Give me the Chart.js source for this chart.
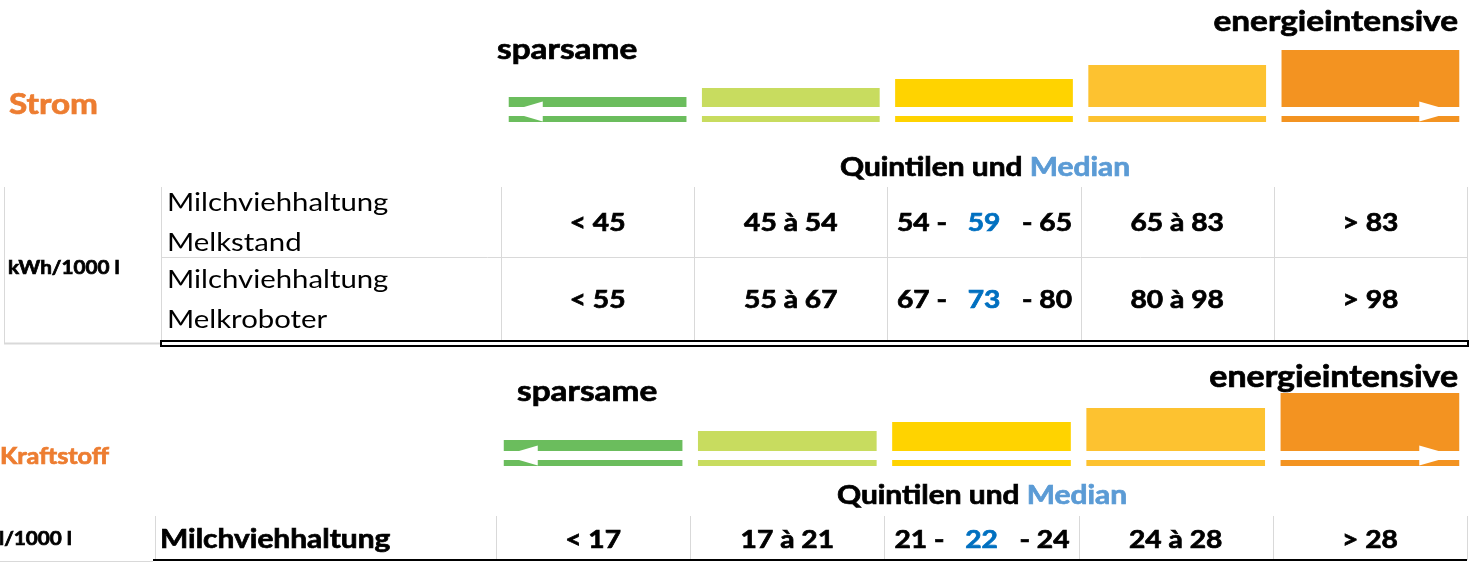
<!DOCTYPE html>
<html>
<head>
<meta charset="utf-8">
<script src="https://cdn.jsdelivr.net/npm/chart.js@4.4.1/dist/chart.umd.min.js"></script>
<style>
  html, body { margin: 0; padding: 0; background: #fff; }
  #wrap { position: relative; width: 1475px; height: 562px; overflow: hidden; }
  canvas { position: absolute; left: 0; }
</style>
</head>
<body>
<div id="wrap">
  <canvas id="strom" width="1475" height="350" style="top:0"></canvas>
  <canvas id="kraft" width="1475" height="212" style="top:350px"></canvas>
</div>
<script>
// Quintil-Klassen (von sparsam bis energieintensiv)
const klassen = ['Q1', 'Q2', 'Q3', 'Q4', 'Q5'];
// Höhe der Farbbalken je Klasse
const stromStufen = [25, 34, 43, 57, 72];
const kraftStufen = [26, 35, 44, 58, 73];
// Quintilgrenzen und Median
const melkstand = [45, 54, 65, 83];
const melkstandMedian = 59;
const melkroboter = [55, 67, 80, 98];
const melkroboterMedian = 73;
const kraftstoff = [17, 21, 24, 28];
const kraftstoffMedian = 22;

const farben = ['#6bbd5d', '#c8dc5f', '#ffd300', '#fdc230', '#f39321'];
const FONT = 'Lato, "Open Sans", sans-serif';
const GRAU = '#d9d9d9';
const SX = 1.15; // Text ist im Original etwas in die Breite gezogen

function txt(ctx, s, x, y, font, color, align) {
  ctx.save();
  ctx.font = font;
  ctx.fillStyle = color || '#000';
  ctx.textAlign = align || 'left';
  ctx.textBaseline = 'middle';
  ctx.translate(x, y);
  ctx.scale(SX, 1);
  ctx.fillText(s, 0, 0);
  if (font.startsWith('bold')) {
    // etwas kräftiger, wie im Original
    ctx.strokeStyle = color || '#000';
    ctx.lineWidth = 0.7;
    ctx.strokeText(s, 0, 0);
  }
  ctx.restore();
}

function breite(ctx, s, font) {
  ctx.font = font;
  return ctx.measureText(s).width * SX;
}

function linie(ctx, x1, y1, x2, y2, color, w) {
  ctx.beginPath();
  ctx.strokeStyle = color;
  ctx.lineWidth = w || 1;
  ctx.moveTo(x1, y1);
  ctx.lineTo(x2, y2);
  ctx.stroke();
}

function zellText(g, i) {
  if (i === 0) return '< ' + g[0];
  if (i === 1) return g[0] + ' à ' + g[1];
  if (i === 3) return g[2] + ' à ' + g[3];
  return '> ' + g[3];
}

function zeile(ctx, chart, g, med, y) {
  const xs = chart.scales.x;
  const f = 'bold 24.5px ' + FONT;
  klassen.forEach((k, i) => {
    const cx = xs.getPixelForValue(i);
    if (i === 2) {
      txt(ctx, g[1] + ' -', cx - 37, y, f, '#000', 'right');
      txt(ctx, String(med), cx, y, f, '#0070c0', 'center');
      txt(ctx, '- ' + g[2], cx + 38, y, f, '#000', 'left');
    } else {
      txt(ctx, zellText(g, i), cx, y, f, '#000', 'center');
    }
  });
}

function grenzen(chart) {
  const xs = chart.scales.x;
  const half = (xs.getPixelForValue(1) - xs.getPixelForValue(0)) / 2;
  return klassen.map((k, i) => xs.getPixelForValue(i) - half).concat([xs.getPixelForValue(klassen.length - 1) + half]);
}

function kopf(ctx, cx, y) {
  const f = 'bold 26px ' + FONT;
  const a = 'Quintilen und ', b = 'Median';
  const wa = breite(ctx, a, f), wb = breite(ctx, b, f);
  const x0 = cx - (wa + wb) / 2;
  txt(ctx, a, x0, y, f, '#000', 'left');
  txt(ctx, b, x0 + wa, y, f, '#5b9bd5', 'left');
}

// weisse Pfeile in der Lücke der äussersten Balken
const pfeile = {
  id: 'pfeile',
  afterDatasetsDraw(chart) {
    const ctx = chart.ctx;
    const bars = chart.getDatasetMeta(1).data;
    const ym = chart.scales.y.getPixelForValue(10.5);
    const l = bars[0].x - bars[0].width / 2;
    const r = bars[4].x + bars[4].width / 2;
    ctx.save();
    ctx.fillStyle = '#fff';
    ctx.beginPath();
    ctx.moveTo(l, ym); ctx.lineTo(l + 34, ym - 10); ctx.lineTo(l + 34, ym + 10); ctx.closePath();
    ctx.fill();
    ctx.beginPath();
    ctx.moveTo(r - 5, ym); ctx.lineTo(r - 40, ym - 10); ctx.lineTo(r - 40, ym + 10); ctx.closePath();
    ctx.fill();
    ctx.restore();
  }
};

function balken(stufen) {
  return [
    { data: stufen.map(() => [0, 6]), backgroundColor: farben },
    { data: stufen.map(h => [15, h]), backgroundColor: farben }
  ];
}

function optionen(pad, ymax) {
  return {
    responsive: false,
    animation: false,
    layout: { padding: pad },
    datasets: { bar: { grouped: false, barPercentage: 0.92, categoryPercentage: 1, borderSkipped: false } },
    plugins: { legend: { display: false }, tooltip: { enabled: false } },
    scales: {
      x: { display: false },
      y: { display: false, min: 0, max: ymax }
    }
  };
}

new Chart(document.getElementById('strom'), {
  type: 'bar',
  data: { labels: klassen, datasets: balken(stromStufen) },
  options: optionen({ left: 501, right: 8, top: 0, bottom: 228 }, 122),
  plugins: [pfeile, {
    id: 'tabelleStrom',
    afterDraw(chart) {
      const ctx = chart.ctx;
      ctx.save();
      txt(ctx, 'Strom', 9, 105, 'bold 29px ' + FONT, '#ed7d31');
      txt(ctx, 'sparsame', 497, 50, 'bold 29px ' + FONT);
      txt(ctx, 'energieintensive', 1458, 22, 'bold 29px ' + FONT, '#000', 'right');
      kopf(ctx, 985, 168);
      const gx = grenzen(chart);
      gx.forEach(x => linie(ctx, Math.round(x) + 0.5, 187, Math.round(x) + 0.5, 340, GRAU));
      linie(ctx, 161.5, 187, 161.5, 340, GRAU);
      linie(ctx, 4.5, 187, 4.5, 344, GRAU);
      linie(ctx, 161, 257.5, gx[5], 257.5, GRAU);
      linie(ctx, 4, 343.5, 161, 343.5, GRAU, 2);
      ctx.strokeStyle = '#000';
      ctx.lineWidth = 2;
      ctx.strokeRect(161, 341, gx[5] - 160, 5);
      txt(ctx, 'kWh/1000 l', 8, 268, 'bold 18px ' + FONT);
      const fn = '25.5px ' + FONT;
      txt(ctx, 'Milchviehhaltung', 167, 203, fn);
      txt(ctx, 'Melkstand', 167, 243, fn);
      txt(ctx, 'Milchviehhaltung', 167, 280, fn);
      txt(ctx, 'Melkroboter', 167, 320, fn);
      zeile(ctx, chart, melkstand, melkstandMedian, 223);
      zeile(ctx, chart, melkroboter, melkroboterMedian, 300);
      ctx.restore();
    }
  }]
});

new Chart(document.getElementById('kraft'), {
  type: 'bar',
  data: { labels: klassen, datasets: balken(kraftStufen) },
  options: optionen({ left: 496, right: 8, top: 0, bottom: 96 }, 116),
  plugins: [pfeile, {
    id: 'tabelleKraft',
    afterDraw(chart) {
      const ctx = chart.ctx;
      ctx.save();
      txt(ctx, 'Kraftstoff', 0, 107, 'bold 22px ' + FONT, '#ed7d31');
      txt(ctx, 'sparsame', 517, 42, 'bold 29px ' + FONT);
      txt(ctx, 'energieintensive', 1458, 27, 'bold 29.5px ' + FONT, '#000', 'right');
      kopf(ctx, 982, 146);
      const gx = grenzen(chart);
      gx.forEach(x => linie(ctx, Math.round(x) + 0.5, 166, Math.round(x) + 0.5, 210, GRAU));
      linie(ctx, 155.5, 166, 155.5, 210, GRAU);
      linie(ctx, 0, 211.5, 153, 211.5, GRAU);
      linie(ctx, 153, 210, gx[5], 210, '#000', 2);
      txt(ctx, 'l/1000 l', -1, 189, 'bold 18px ' + FONT);
      txt(ctx, 'Milchviehhaltung', 160, 190, 'bold 26px ' + FONT);
      zeile(ctx, chart, kraftstoff, kraftstoffMedian, 190);
      ctx.restore();
    }
  }]
});
</script>
</body>
</html>
